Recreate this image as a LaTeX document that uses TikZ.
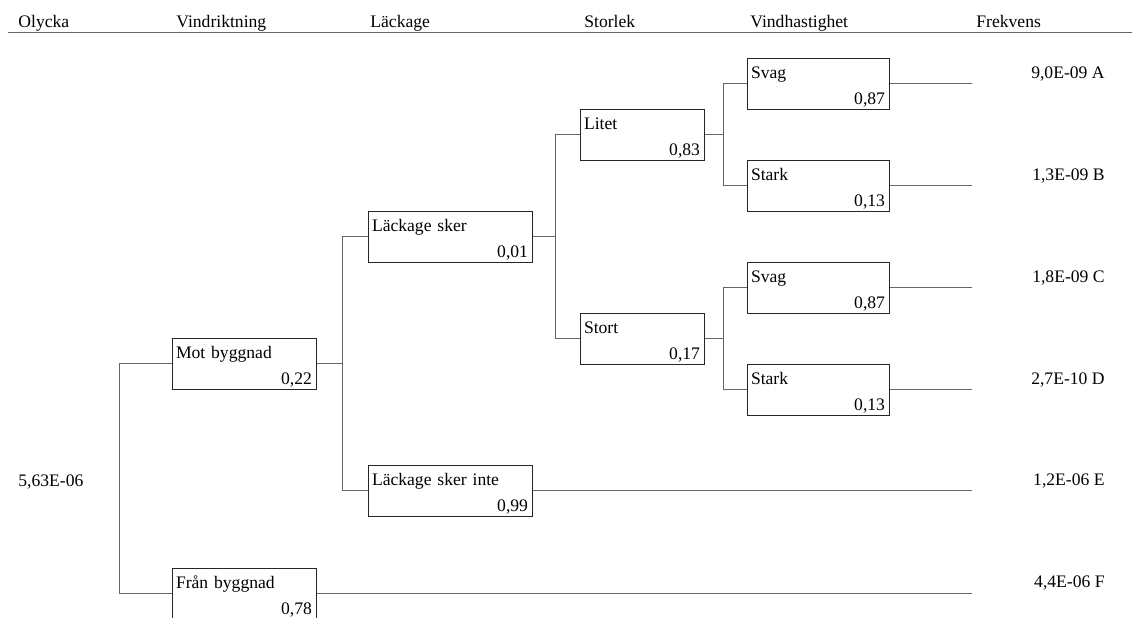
\documentclass[tikz,border=0pt]{standalone}
\usepackage{fontspec}
\setmainfont{Liberation Serif}
\usetikzlibrary{positioning}

\begin{document}
\begin{tikzpicture}[x=0.5pt, y=-0.5pt,
    font=\fontsize{8.8}{13}\selectfont,
    gren/.style={draw=black!85, rectangle, line width=0.5pt, text width=#1,
        inner xsep=2pt, inner ysep=0pt, align=left,
        text height=10pt, text depth=15.5pt, minimum height=25.5pt},
    linje/.style={draw=black!60, line width=0.7pt},
    rubrik/.style={anchor=base west, inner sep=0pt},
    utfall/.style={anchor=base east, inner sep=0pt}]

    \useasboundingbox (0,0) rectangle (1132,617);

    % rubriker
    \node[rubrik] (hOlycka) at (18,27) {Olycka};
    \node[rubrik] (hVind) at (176,27) {Vindriktning};
    \node[rubrik] (hLack) at (370,27) {Läckage};
    \node[rubrik] (hStorlek) at (584,27) {Storlek};
    \node[rubrik] (hHast) at (750,27) {Vindhastighet};
    \node[rubrik] (hFrekv) at (976,27) {Frekvens};
    \draw[black!60, line width=0.8pt] (8,32.5) -- (1132,32.5);

    % grenar
    \node[gren=68pt] (mot) at (244,363.5) {Mot byggnad\\\hspace*{\fill}0,22};
    \node[gren=68pt] (fran) at (244,593.5) {Från byggnad\\\hspace*{\fill}0,78};
    \node[gren=78pt] (lsk) at (450,236.5) {Läckage sker\\\hspace*{\fill}0,01};
    \node[gren=78pt] (lski) at (450,490.5) {Läckage sker inte\\\hspace*{\fill}0,99};
    \node[gren=58pt] (litet) at (642,134.5) {Litet\\\hspace*{\fill}0,83};
    \node[gren=58pt] (stort) at (642,338.5) {Stort\\\hspace*{\fill}0,17};
    \node[gren=67pt] (svag1) at (818,83.5) {Svag\\\hspace*{\fill}0,87};
    \node[gren=67pt] (stark1) at (818,185.5) {Stark\\\hspace*{\fill}0,13};
    \node[gren=67pt] (svag2) at (818,287.5) {Svag\\\hspace*{\fill}0,87};
    \node[gren=67pt] (stark2) at (818,389.5) {Stark\\\hspace*{\fill}0,13};

    \node[rubrik] (rot) at (18,486) {5,63E-06};

    % utfall
    \coordinate (uA) at (972,83.5);
    \coordinate (uB) at (972,185.5);
    \coordinate (uC) at (972,287.5);
    \coordinate (uD) at (972,389.5);
    \coordinate (uE) at (972,490.5);
    \coordinate (uF) at (972,593.5);
    \node[utfall] (fA) at (1105,78) {9,0E-09 A};
    \node[utfall] (fB) at (1105,180) {1,3E-09 B};
    \node[utfall] (fC) at (1105,282) {1,8E-09 C};
    \node[utfall] (fD) at (1105,384) {2,7E-10 D};
    \node[utfall] (fE) at (1105,485) {1,2E-06 E};
    \node[utfall] (fF) at (1105,587) {4,4E-06 F};

    \draw[linje] (mot.west) -- ++(-52,0) coordinate (j0) |- (fran.west);
    \draw[linje] (mot.east) -- ++(26,0) coordinate (j1) |- (lsk.west);
    \draw[linje] (j1) |- (lski.west);
    \draw[linje] (lsk.east) -- ++(23,0) coordinate (j2) |- (litet.west);
    \draw[linje] (j2) |- (stort.west);
    \draw[linje] (litet.east) -- ++(19,0) coordinate (j3) |- (svag1.west);
    \draw[linje] (j3) |- (stark1.west);
    \draw[linje] (stort.east) -- ++(19,0) coordinate (j4) |- (svag2.west);
    \draw[linje] (j4) |- (stark2.west);

    \path[linje]
    (svag1.east) edge (uA)
    (stark1.east) edge (uB)
    (svag2.east) edge (uC)
    (stark2.east) edge (uD)
    (lski.east) edge (uE)
    (fran.east) edge (uF);

\end{tikzpicture}
\end{document}
